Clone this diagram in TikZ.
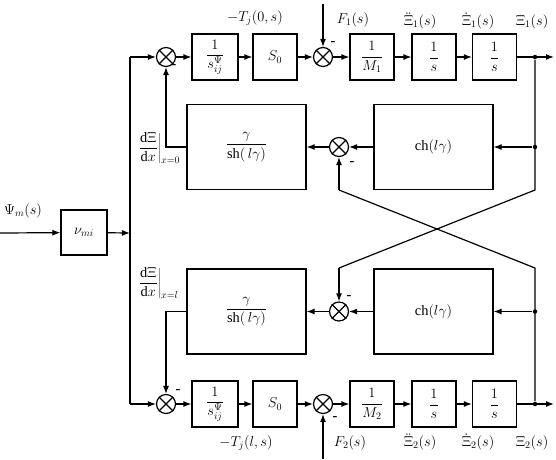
\documentclass[tikz,border=0pt]{standalone}
\usepackage{fontspec}
\setmainfont{Liberation Serif}
\usetikzlibrary{arrows.meta}
\begin{document}
\begin{tikzpicture}[x=1pt,y=-1pt,line width=1.2pt,
  blk/.style={draw,line width=1.2pt,minimum width=44pt,minimum height=46pt,inner sep=0pt,font=\Large},
  bigblk/.style={draw,line width=1.2pt,minimum width=119pt,minimum height=85pt,inner sep=0pt,font=\Large},
  sumj/.style={draw,circle,line width=1.2pt,minimum size=19pt,inner sep=0pt},
  arr/.style={-{Latex[length=8pt,width=6pt]}},
  lbl/.style={font=\Large,inner sep=0pt},
  mns/.style={font=\Large\bfseries,inner sep=0pt},
  dot/.style={circle,fill,inner sep=0pt,minimum size=4.5pt}]
\useasboundingbox (0,0) rectangle (556,459);
% ---------- input ----------
\coordinate (in) at (0,233);
\node[blk,minimum width=46pt,minimum height=45pt] (nu) at (84,232.5) {$\nu_{mi}$};
\coordinate (jm) at (130,233);
\coordinate (jt) at (130,57);
\coordinate (jb) at (130,404);
\node[lbl] (psi) at (23,211) {$\Psi_m\bigl(s\bigr)$};
% ---------- top row ----------
\node[sumj] (sA1) at (166,57) {};
\node[blk,minimum width=46pt] (bA1) at (215,57) {$\displaystyle\frac{1}{s^{\Psi}_{ij}}$};
\node[blk] (bA2) at (275,57) {$S_0$};
\node[sumj] (sA2) at (323,57) {};
\node[blk] (bA3) at (372,57) {$\displaystyle\frac{1}{M_1}$};
\node[blk] (bA4) at (434,57) {$\displaystyle\frac{1}{s}$};
\node[blk] (bA5) at (494.5,57) {$\displaystyle\frac{1}{s}$};
\node[dot] (dA) at (535,57) {};
\coordinate (outA) at (554,57);
\coordinate (fA) at (323,4);
% ---------- bottom row ----------
\node[sumj] (sB1) at (166,404) {};
\node[blk,minimum width=46pt] (bB1) at (215,404) {$\displaystyle\frac{1}{s^{\Psi}_{ij}}$};
\node[blk] (bB2) at (275,404) {$S_0$};
\node[sumj] (sB2) at (323,404) {};
\node[blk] (bB3) at (372,404) {$\displaystyle\frac{1}{M_2}$};
\node[blk] (bB4) at (434,404) {$\displaystyle\frac{1}{s}$};
\node[blk] (bB5) at (494.5,404) {$\displaystyle\frac{1}{s}$};
\node[dot] (dB) at (535,404) {};
\coordinate (outB) at (554,404);
\coordinate (fB) at (323,459);
% ---------- middle ----------
\node[bigblk] (G1) at (246.5,147) {$\displaystyle\frac{\gamma}{\mathrm{sh}\bigl(\,l\gamma\bigr)}$};
\node[sumj] (sM1) at (339,147) {};
\node[bigblk] (C1) at (433.5,147) {$\mathrm{ch}\bigl(l\gamma\bigr)$};
\node[dot] (dM1) at (535,147) {};
\node[bigblk] (G2) at (246.5,311.5) {$\displaystyle\frac{\gamma}{\mathrm{sh}\bigl(\,l\gamma\bigr)}$};
\node[sumj] (sM2) at (339,311.5) {};
\node[bigblk] (C2) at (433.5,311.5) {$\mathrm{ch}\bigl(l\gamma\bigr)$};
\node[dot] (dM2) at (535,311.5) {};
\coordinate (rA) at (535,190);
\coordinate (rB) at (535,268);
\coordinate (kA) at (339,268);
\coordinate (kB) at (339,190);
% cross marks
\foreach \n in {sA1,sA2,sB1,sB2,sM1,sM2}
  \draw (\n.north east) -- (\n.south west) (\n.north west) -- (\n.south east);
% ---------- connectors ----------
\draw[arr] (in) -- (nu);
\draw[arr] (nu) -- (jm);
\draw (jt) -- (jb);
\draw[arr] (jt) -- (sA1);
\draw[arr] (jb) -- (sB1);
\draw[arr] (sA1) -- (bA1);
\draw[arr] (bA1) -- (bA2);
\draw[arr] (bA2) -- (sA2);
\draw[arr] (sA2) -- (bA3);
\draw[arr] (bA3) -- (bA4);
\draw[arr] (bA4) -- (bA5);
\draw[arr] (bA5) -- (outA);
\draw[arr] (fA) -- (sA2);
\draw[arr] (sB1) -- (bB1);
\draw[arr] (bB1) -- (bB2);
\draw[arr] (bB2) -- (sB2);
\draw[arr] (sB2) -- (bB3);
\draw[arr] (bB3) -- (bB4);
\draw[arr] (bB4) -- (bB5);
\draw[arr] (bB5) -- (outB);
\draw[arr] (fB) -- (sB2);
% middle loops
\draw[arr] (dM1) -- (C1);
\draw[arr] (C1) -- (sM1);
\draw[arr] (sM1) -- (G1);
\draw[arr] (G1.west) -| (sA1.south);
\draw[arr] (dM2) -- (C2);
\draw[arr] (C2) -- (sM2);
\draw[arr] (sM2) -- (G2);
\draw[arr] (G2.west) -| (sB1.north);
% right verticals and crossing
\draw (dA) -- (rA) -- (kA);
\draw[arr] (kA) -- (sM2);
\draw (dB) -- (rB) -- (kB);
\draw[arr] (kB) -- (sM1);
% ---------- labels ----------
\node[lbl] (tA) at (255,18) {$-T_j\bigl(0,s\bigr)$};
\node[lbl] (tB) at (246,443) {$-T_j\bigl(l,s\bigr)$};
\node[lbl] (lF1) at (353,20) {$F_1\bigl(s\bigr)$};
\node[lbl] (lF2) at (350,443) {$F_2\bigl(s\bigr)$};
\node[lbl] (lA1) at (420,21) {$\ddot{\Xi}_1\bigl(s\bigr)$};
\node[lbl] (lA2) at (478,21) {$\dot{\Xi}_1\bigl(s\bigr)$};
\node[lbl] (lA3) at (532,22) {$\Xi_1\bigl(s\bigr)$};
\node[lbl] (lB1) at (420,442) {$\ddot{\Xi}_2\bigl(s\bigr)$};
\node[lbl] (lB2) at (478,442) {$\dot{\Xi}_2\bigl(s\bigr)$};
\node[lbl] (lB3) at (532,443) {$\Xi_2\bigl(s\bigr)$};
\node[font=\Large,inner sep=0pt,anchor=west] (dx0) at (137,148) {$\displaystyle\left.\frac{\mathrm{d}\Xi}{\mathrm{d}x}\right|_{x=0}$};
\node[font=\Large,inner sep=0pt,anchor=west] (dxl) at (137,283) {$\displaystyle\left.\frac{\mathrm{d}\Xi}{\mathrm{d}x}\right|_{x=l}$};
% minus signs
\node[mns] at (174,66) {-};
\node[mns] at (333,43) {-};
\node[mns] at (352,163) {-};
\node[mns] at (349,297) {-};
\node[mns] at (178,391) {-};
\node[mns] at (335,418) {-};
\end{tikzpicture}
\end{document}
